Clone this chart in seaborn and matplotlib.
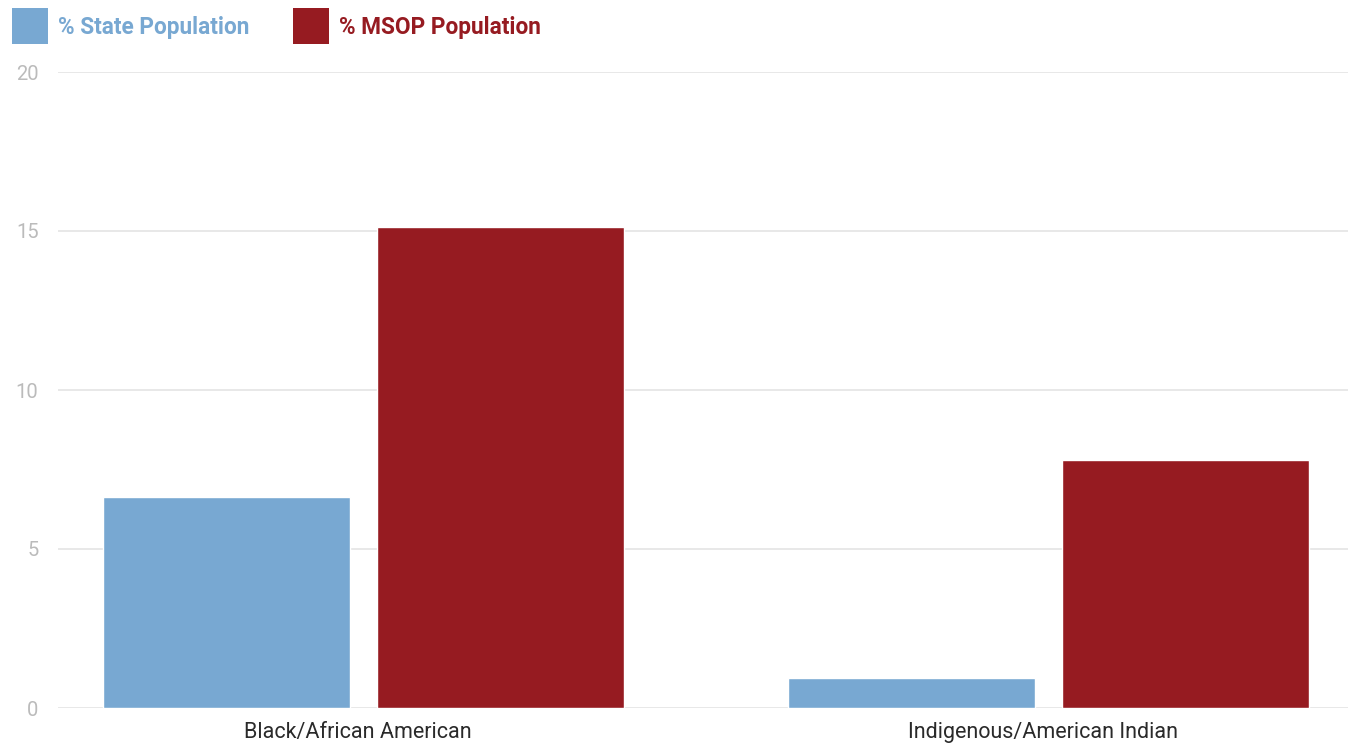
import matplotlib
matplotlib.use("Agg")
import matplotlib.pyplot as plt
import matplotlib.transforms as mtransforms
from matplotlib.patches import Rectangle
import seaborn as sns
import pandas as pd

categories = ["Black/African American", "Indigenous/American Indian"]
state_pct = [6.65, 0.95]
msop_pct = [15.13, 7.79]
series_names = ["% State Population", "% MSOP Population"]
y_ticks = [0, 5, 10, 15, 20]

blue = "#78a8d2"
red = "#961b21"

sns.set_style("white")
plt.rcParams['font.family'] = ['Roboto', 'DejaVu Sans']

W, H = 1348, 743
df = pd.DataFrame({
    "category": categories * 2,
    "series": [series_names[0]] * 2 + [series_names[1]] * 2,
    "value": state_pct + msop_pct,
})

fig = plt.figure(figsize=(W / 100, H / 100), dpi=100)
ax = fig.add_axes([58 / W, 35 / H, 1 - 58 / W, (671 - 35) / H])

sns.barplot(data=df, x="category", y="value", hue="series",
            palette={series_names[0]: blue, series_names[1]: red},
            width=0.8, gap=0.1, saturation=1, ax=ax, zorder=3, legend=False)

ax.set_ylim(0, 20)
ax.set_xlim(-0.446, 1.437)
ax.set_yticks(y_ticks)
ax.set_yticklabels([str(t) for t in y_ticks])
ax.yaxis.grid(True, color="#e6e6e6", linewidth=1.3, zorder=0)
ax.set_axisbelow(True)
for s in ax.spines.values():
    s.set_visible(False)
ax.tick_params(axis="y", length=0, pad=14, labelsize=14.5, labelcolor="#bbbbbb")
ax.tick_params(axis="x", length=0, pad=10, labelsize=15.5, labelcolor="#2a2a2a")
ax.set_xlabel("")
ax.set_ylabel("")
off = mtransforms.ScaledTranslation(-6 / 100, 0, fig.dpi_scale_trans)
for lab in ax.get_xticklabels():
    lab.set_transform(lab.get_transform() + off)

# legend (manual, top-left)
legend_items = [(series_names[0], blue, 12), (series_names[1], red, 293)]
for name, col, x0 in legend_items:
    fig.add_artist(Rectangle((x0 / W, 1 - 44 / H), 36 / W, 36 / H,
                             transform=fig.transFigure, facecolor=col, edgecolor="none"))
    fig.text((x0 + 46) / W, 1 - 34 / H, name, color=col, fontsize=16.3,
             fontweight="bold", va="baseline", ha="left")

fig.savefig("out.png", dpi=100)
